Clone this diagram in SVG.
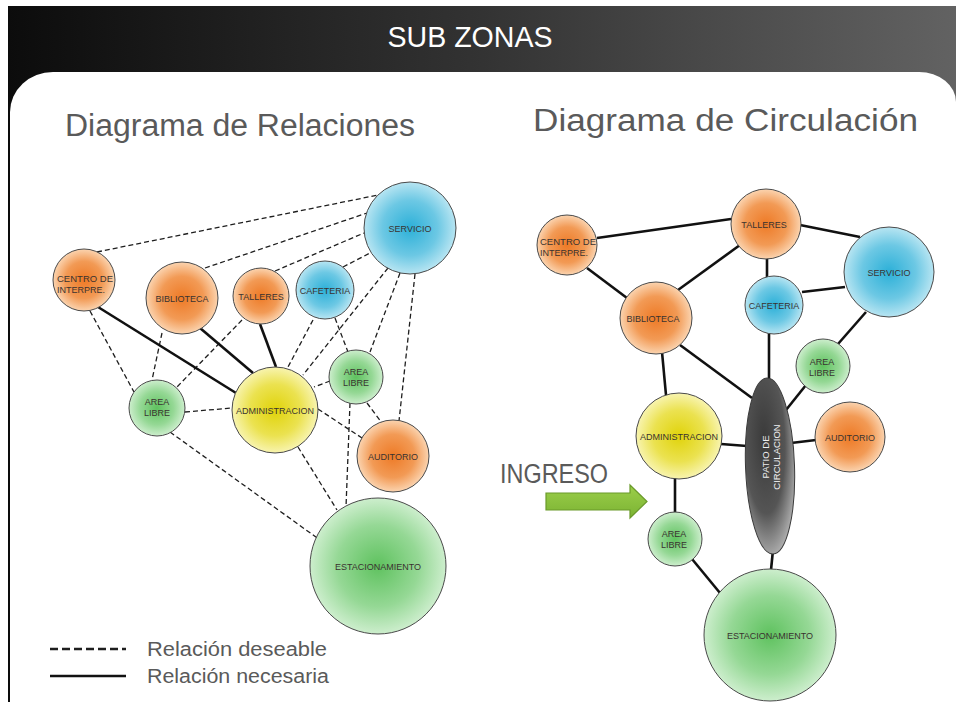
<svg xmlns="http://www.w3.org/2000/svg" width="956" height="702" viewBox="0 0 956 702">
<defs>
<linearGradient id="hdr" x1="0" y1="0" x2="1" y2="0"><stop offset="0" stop-color="#0c0c0c"/><stop offset="0.5" stop-color="#333"/><stop offset="1" stop-color="#626262"/></linearGradient>
<radialGradient id="gOr"><stop offset="0" stop-color="#ee7a26"/><stop offset="0.6" stop-color="#f29a55"/><stop offset="1" stop-color="#fbd4b0"/></radialGradient>
<radialGradient id="gBl"><stop offset="0" stop-color="#2cb0d8"/><stop offset="0.6" stop-color="#6cc8e4"/><stop offset="1" stop-color="#b8e5f2"/></radialGradient>
<radialGradient id="gGr"><stop offset="0" stop-color="#5fc25f"/><stop offset="0.6" stop-color="#95d895"/><stop offset="1" stop-color="#cdeecd"/></radialGradient>
<radialGradient id="gYe"><stop offset="0" stop-color="#e0d30a"/><stop offset="0.6" stop-color="#ebe250"/><stop offset="1" stop-color="#f8f4b0"/></radialGradient>
<radialGradient id="gPa" cx="0.4" cy="0.35" r="0.7"><stop offset="0" stop-color="#3a3a3a"/><stop offset="0.6" stop-color="#555"/><stop offset="1" stop-color="#b5b5b5"/></radialGradient>
<linearGradient id="gAr" x1="0" y1="0" x2="0" y2="1"><stop offset="0" stop-color="#9ccf4a"/><stop offset="1" stop-color="#7bb333"/></linearGradient>
</defs>
<style>
.nd{stroke:#4a4a4a;stroke-width:1}
.or{fill:url(#gOr)}
.bl{fill:url(#gBl)}
.gr{fill:url(#gGr)}
.ye{fill:url(#gYe)}
.lb{font-family:"Liberation Sans",Arial,sans-serif;font-size:9px;fill:#3a3330;text-anchor:middle}
.lbl{font-family:"Liberation Sans",Arial,sans-serif;font-size:9px;fill:#3a3330}
.ds{stroke:#1e1e1e;stroke-width:1.3;stroke-dasharray:5 3;fill:none}
.so{stroke:#111;stroke-width:2.6;fill:none}
.sub{font-family:"Liberation Sans",Arial,sans-serif;font-size:31px;fill:#5a5a5a}
.leg{font-family:"Liberation Sans",Arial,sans-serif;font-size:20px;fill:#5a5a5a}
</style>
<rect x="0" y="0" width="956" height="702" fill="#fff"/>
<rect x="8" y="6" width="948" height="696" fill="url(#hdr)"/>
<path d="M10,112 A43,40 0 0 1 53,72 H919 A37,30 0 0 1 956,102 V702 H10 Z" fill="#fff"/>
<text x="470" y="47" text-anchor="middle" font-family="Liberation Sans, Arial, sans-serif" font-size="30" fill="#fff" textLength="165" lengthAdjust="spacingAndGlyphs">SUB ZONAS</text>
<text class="sub" x="65" y="136" textLength="350" lengthAdjust="spacingAndGlyphs">Diagrama de Relaciones</text>
<text class="sub" x="533" y="131" textLength="385" lengthAdjust="spacingAndGlyphs">Diagrama de Circulación</text>

<g id="connectors-left">
<line class="ds" x1="97" y1="252" x2="378" y2="195"/>
<line class="ds" x1="205" y1="268" x2="367" y2="213"/>
<line class="ds" x1="275" y1="271" x2="364" y2="233"/>
<line class="ds" x1="343" y1="267" x2="370" y2="253"/>
<line class="ds" x1="388" y1="268" x2="303" y2="375"/>
<line class="ds" x1="400" y1="273" x2="370" y2="352"/>
<line class="ds" x1="415" y1="274" x2="399" y2="421"/>
<line class="ds" x1="313" y1="320" x2="288" y2="367"/>
<line class="ds" x1="335" y1="318" x2="348" y2="352"/>
<line class="ds" x1="330" y1="381" x2="314" y2="387"/>
<line class="ds" x1="367" y1="403" x2="382" y2="423"/>
<line class="ds" x1="350" y1="403" x2="346" y2="507"/>
<line class="ds" x1="318" y1="409" x2="362" y2="438"/>
<line class="ds" x1="298" y1="447" x2="337" y2="510"/>
<line class="ds" x1="185" y1="412" x2="232" y2="408"/>
<line class="ds" x1="170" y1="432" x2="320" y2="540"/>
<line class="ds" x1="90" y1="311" x2="134" y2="392"/>
<line class="ds" x1="162" y1="333" x2="152" y2="380"/>
<line class="ds" x1="242" y1="320" x2="176" y2="388"/>
<line class="so" x1="98" y1="307" x2="236" y2="393"/>
<line class="so" x1="200" y1="328" x2="253" y2="373"/>
<line class="so" x1="260" y1="324" x2="276" y2="367"/>
</g>

<g id="connectors-right">
<line class="so" x1="597" y1="238" x2="731" y2="219"/>
<line class="so" x1="587" y1="268" x2="627" y2="298"/>
<line class="so" x1="678" y1="290" x2="740" y2="245"/>
<line class="so" x1="800" y1="225" x2="860" y2="237"/>
<line class="so" x1="767" y1="256" x2="767" y2="278"/>
<line class="so" x1="802" y1="292" x2="845" y2="287"/>
<line class="so" x1="866" y1="312" x2="838" y2="344"/>
<line class="so" x1="769" y1="333" x2="769" y2="382"/>
<line class="so" x1="680" y1="345" x2="752" y2="398"/>
<line class="so" x1="662" y1="352" x2="666" y2="395"/>
<line class="so" x1="806" y1="385" x2="786" y2="410"/>
<line class="so" x1="721" y1="444" x2="747" y2="446"/>
<line class="so" x1="791" y1="443" x2="816" y2="440"/>
<line class="so" x1="675" y1="477" x2="675" y2="514"/>
<line class="so" x1="692" y1="559" x2="720" y2="593"/>
<line class="so" x1="773" y1="550" x2="771" y2="570"/>
</g>

<!-- Left diagram nodes -->
<g id="l-centro"><circle class="nd or" cx="84" cy="280" r="31"/><text class="lbl" x="57" y="282" textLength="56" lengthAdjust="spacingAndGlyphs">CENTRO DE</text><text class="lbl" x="57" y="293">INTERPRE.</text></g>
<g id="l-biblioteca"><circle class="nd or" cx="182" cy="298" r="36"/><text class="lb" x="182" y="302">BIBLIOTECA</text></g>
<g id="l-talleres"><circle class="nd or" cx="261" cy="296" r="28"/><text class="lb" x="261" y="300">TALLERES</text></g>
<g id="l-cafeteria"><circle class="nd bl" cx="325" cy="290" r="29"/><text class="lb" x="325" y="294">CAFETERIA</text></g>
<g id="l-servicio"><circle class="nd bl" cx="410" cy="228" r="46"/><text class="lb" x="410" y="232">SERVICIO</text></g>
<g id="l-arealibre-r"><circle class="nd gr" cx="356" cy="377" r="27"/><text class="lb" x="356" y="375">AREA</text><text class="lb" x="356" y="386">LIBRE</text></g>
<g id="l-arealibre-l"><circle class="nd gr" cx="157" cy="408" r="28"/><text class="lb" x="157" y="405">AREA</text><text class="lb" x="157" y="416">LIBRE</text></g>
<g id="l-administracion"><circle class="nd ye" cx="275" cy="410" r="43"/><text class="lb" x="275" y="414">ADMINISTRACION</text></g>
<g id="l-auditorio"><circle class="nd or" cx="393" cy="456" r="36"/><text class="lb" x="393" y="460">AUDITORIO</text></g>
<g id="l-estacionamiento"><circle class="nd gr" cx="378" cy="566" r="68"/><text class="lb" x="378" y="570">ESTACIONAMIENTO</text></g>

<!-- Right diagram nodes -->
<g id="r-centro"><circle class="nd or" cx="567" cy="245" r="30"/><text class="lbl" x="540" y="245" textLength="56" lengthAdjust="spacingAndGlyphs">CENTRO DE</text><text class="lbl" x="540" y="256">INTERPRE.</text></g>
<g id="r-biblioteca"><circle class="nd or" cx="656" cy="318" r="36"/><text class="lb" x="653" y="322">BIBLIOTECA</text></g>
<g id="r-talleres"><circle class="nd or" cx="766" cy="224" r="35"/><text class="lb" x="764" y="228">TALLERES</text></g>
<g id="r-servicio"><circle class="nd bl" cx="889" cy="272" r="45"/><text class="lb" x="889" y="276">SERVICIO</text></g>
<g id="r-cafeteria"><circle class="nd bl" cx="774" cy="305" r="29"/><text class="lb" x="774" y="309">CAFETERIA</text></g>
<g id="r-arealibre-r"><circle class="nd gr" cx="823" cy="366" r="27"/><text class="lb" x="822" y="365">AREA</text><text class="lb" x="822" y="376">LIBRE</text></g>
<g id="r-patio"><ellipse cx="770" cy="466" rx="24.5" ry="88" transform="rotate(-2 770 466)" fill="url(#gPa)" stroke="#3a3a3a" stroke-width="1"/><text transform="translate(771 457) rotate(-90)" font-family="Liberation Sans, Arial, sans-serif" font-size="9.5" fill="#eee" text-anchor="middle"><tspan x="0" y="-2">PATIO DE</tspan><tspan x="0" y="9">CIRCULACION</tspan></text></g>
<g id="r-administracion"><circle class="nd ye" cx="679" cy="436" r="43"/><text class="lb" x="679" y="440">ADMINISTRACION</text></g>
<g id="r-auditorio"><circle class="nd or" cx="850" cy="437" r="35"/><text class="lb" x="850" y="441">AUDITORIO</text></g>
<g id="r-arealibre-b"><circle class="nd gr" cx="675" cy="539" r="27"/><text class="lb" x="674" y="537">AREA</text><text class="lb" x="674" y="548">LIBRE</text></g>
<g id="r-estacionamiento"><circle class="nd gr" cx="770" cy="635" r="66"/><text class="lb" x="770" y="639">ESTACIONAMIENTO</text></g>

<g id="ingreso">
<text x="500" y="483" font-family="Liberation Sans, Arial, sans-serif" font-size="27" fill="#5a5a5a" textLength="108" lengthAdjust="spacingAndGlyphs">INGRESO</text>
<polygon points="546,493 630,493 630,485 647,501.5 630,518 630,510 546,510" fill="url(#gAr)" stroke="#6a9a2a" stroke-width="1.2"/>
</g>

<g id="legend">
<line class="ds" x1="50" y1="649" x2="126" y2="649" style="stroke-width:2.4;stroke-dasharray:8 4"/>
<line class="so" x1="50" y1="676" x2="126" y2="676"/>
<text class="leg" x="147" y="656" textLength="180" lengthAdjust="spacingAndGlyphs">Relación deseable</text>
<text class="leg" x="147" y="683" textLength="182" lengthAdjust="spacingAndGlyphs">Relación necesaria</text>
</g>
</svg>
